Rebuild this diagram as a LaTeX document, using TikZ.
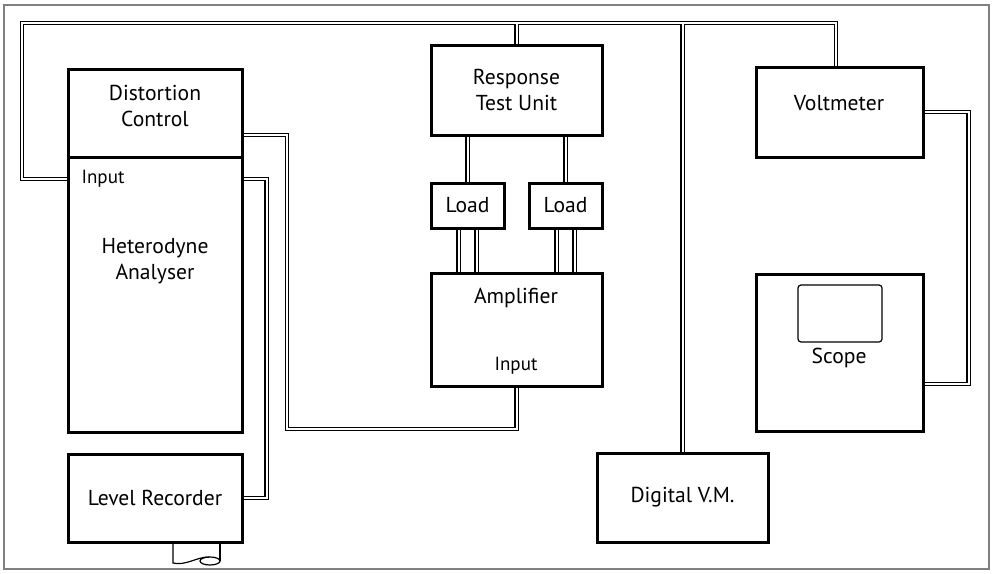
\documentclass[tikz,border=0pt]{standalone}
\usepackage{fontspec}
\setmainfont{PT Sans}
\usetikzlibrary{calc, backgrounds}

\begin{document}
\begin{tikzpicture}[
        x=0.5pt, y=-0.5pt,
        font=\fontsize{10.8}{13}\selectfont,
        box/.style={draw, line width=1.5pt, inner sep=0pt, align=center},
        wire/.style={line width=0.6pt, double, double distance=1pt},
        txt/.style={align=center},
        tag/.style={font=\fontsize{9.5}{11}\selectfont}
    ]
        \useasboundingbox (0,0) rectangle (996,573);
        % Frame
        \draw[gray, line width=0.6pt] (4,5) rectangle (989,569);

        % Nodes
        \node[box, minimum width=87pt, minimum height=44pt] (dist) at (155,113) {};
        \node[txt] (disttxt) at (155,106) {Distortion\\Control};
        \node[box, minimum width=87pt, minimum height=137.5pt] (het) at (155,294.5) {};
        \node[txt] (hettxt) at (155,261) {Heterodyne\\Analyser};
        \node[tag] (in1) at (103,179) {Input};
        \node[box, minimum width=87pt, minimum height=44pt] (lr) at (155,498) {Level Recorder};

        \node[box, minimum width=85.5pt, minimum height=45pt] (rtu) at (516.5,90) {Response\\Test Unit};
        \node[box, minimum width=36.5pt, minimum height=22.5pt] (load1) at (467.5,205.5) {Load};
        \node[box, minimum width=36.5pt, minimum height=22.5pt] (load2) at (565.5,205.5) {Load};
        \node[box, minimum width=85.5pt, minimum height=56.5pt] (amp) at (516.5,329.5) {};
        \node[txt] (amptxt) at (516,298) {Amplifier};
        \node[tag] (in2) at (516,366) {Input};

        \node[box, minimum width=85.5pt, minimum height=44.5pt] (dvm) at (682.5,497.5) {Digital V.M.};
        \node[box, minimum width=83.5pt, minimum height=45pt] (volt) at (839.5,112) {};
        \node[txt] (volttxt) at (839,103) {Voltmeter};
        \node[box, minimum width=83.5pt, minimum height=78.5pt] (scope) at (839.5,352.5) {};
        \node[draw, line width=0.6pt, rounded corners=1.5pt, minimum width=42pt, minimum height=28.5pt] (screen) at (840,313.5) {};
        \node[txt] (scopetxt) at (839,358) {Scope};

        \coordinate (busL) at (22,23);
        \coordinate (busR) at (836,23);
        \coordinate (dc1) at (287,429);

        % Wires
        \begin{scope}[on background layer]
            \draw[wire] (het.west |- in1) -| (busL) -- (busR) -- (busR |- volt.north)
                (busL -| rtu.north) -- (rtu.north)
                (busL -| dvm.north) -- (dvm.north);
            \draw[wire] ($(dist.east)+(0,22)$) -| (dc1) -| (amp.south);
            \draw[wire] (het.east |- in1) -- ++(23,0) |- (lr.east);
            \draw[wire] (rtu.south -| load1.north) -- (load1.north);
            \draw[wire] (rtu.south -| load2.north) -- (load2.north);
            \foreach \ld in {load1,load2}
                \foreach \dx in {-9,9}
                    \draw[wire] ($(\ld.south)+(\dx,0)$) -- ++(0,45);
            \draw[wire] (volt.east) -- ++(44,0) |- ($(scope.east)+(0,31.5)$);
        \end{scope}

        % Chart paper
        \draw[line width=0.6pt] (173,542) -- (173,563) .. controls (186,566) and (196,557) .. (209,557);
        \draw[line width=0.6pt] (220,542) -- (220,561);
        \draw[line width=0.6pt] (210,561) ellipse (10 and 4);
\end{tikzpicture}
\end{document}
